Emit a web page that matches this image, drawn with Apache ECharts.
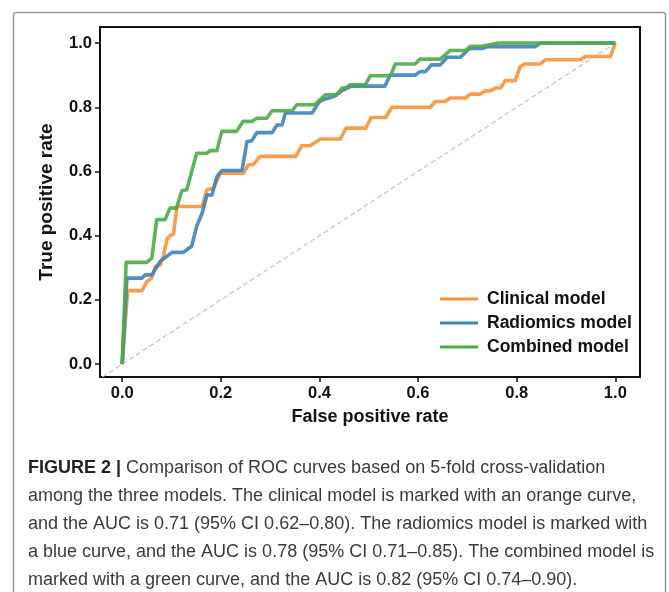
<!DOCTYPE html>
<html>
<head>
<meta charset="utf-8">
<script src="https://cdn.jsdelivr.net/npm/echarts@6/dist/echarts.min.js"></script>
<style>
html,body{margin:0;padding:0;background:#fff;}
#chart{width:669px;height:592px;}
</style>
</head>
<body>
<div id="chart"></div>
<script>
// ---- data ----
const tickValues = [0, 0.2, 0.4, 0.6, 0.8, 1.0];
const seriesNames = ['Clinical model', 'Radiomics model', 'Combined model'];

const clinicalFPR = [0, 0.011, 0.04, 0.05, 0.06, 0.067, 0.077, 0.084, 0.091, 0.097, 0.104, 0.111, 0.162, 0.172, 0.185, 0.199, 0.246, 0.256, 0.265, 0.28, 0.352, 0.364, 0.381, 0.402, 0.442, 0.454, 0.494, 0.505, 0.534, 0.547, 0.625, 0.635, 0.655, 0.665, 0.696, 0.706, 0.726, 0.736, 0.746, 0.757, 0.767, 0.777, 0.797, 0.807, 0.817, 0.848, 0.858, 0.929, 0.939, 0.99, 1.0];
const clinicalTPR = [0, 0.229, 0.229, 0.257, 0.268, 0.304, 0.309, 0.34, 0.389, 0.4, 0.405, 0.491, 0.491, 0.543, 0.548, 0.595, 0.595, 0.621, 0.621, 0.647, 0.647, 0.68, 0.68, 0.701, 0.701, 0.735, 0.735, 0.768, 0.768, 0.8, 0.8, 0.818, 0.818, 0.829, 0.829, 0.841, 0.841, 0.851, 0.851, 0.86, 0.86, 0.883, 0.883, 0.927, 0.935, 0.935, 0.948, 0.948, 0.958, 0.958, 1.0];

const radiomicsFPR = [0, 0.0095, 0.04, 0.047, 0.06, 0.077, 0.094, 0.101, 0.124, 0.141, 0.151, 0.162, 0.172, 0.182, 0.192, 0.202, 0.243, 0.253, 0.263, 0.273, 0.304, 0.314, 0.324, 0.331, 0.385, 0.4, 0.412, 0.43, 0.447, 0.465, 0.533, 0.543, 0.594, 0.604, 0.615, 0.627, 0.645, 0.659, 0.686, 0.704, 0.73, 0.741, 0.838, 0.848, 1.0];
const radiomicsTPR = [0, 0.268, 0.268, 0.278, 0.278, 0.32, 0.34, 0.348, 0.348, 0.368, 0.429, 0.47, 0.527, 0.527, 0.584, 0.603, 0.603, 0.693, 0.696, 0.721, 0.721, 0.745, 0.745, 0.782, 0.782, 0.818, 0.826, 0.834, 0.853, 0.866, 0.866, 0.9, 0.9, 0.911, 0.911, 0.932, 0.932, 0.956, 0.956, 0.983, 0.983, 0.989, 0.989, 1.0, 1.0];

const combinedFPR = [0, 0.008, 0.05, 0.06, 0.07, 0.087, 0.097, 0.11, 0.121, 0.131, 0.151, 0.172, 0.178, 0.192, 0.202, 0.232, 0.245, 0.263, 0.273, 0.293, 0.304, 0.345, 0.354, 0.39, 0.412, 0.435, 0.446, 0.455, 0.462, 0.493, 0.503, 0.544, 0.554, 0.594, 0.604, 0.645, 0.665, 0.696, 0.707, 0.73, 0.763, 1.0];
const combinedTPR = [0, 0.317, 0.317, 0.33, 0.45, 0.45, 0.486, 0.486, 0.54, 0.543, 0.657, 0.657, 0.665, 0.665, 0.725, 0.725, 0.756, 0.756, 0.766, 0.766, 0.789, 0.789, 0.808, 0.808, 0.839, 0.839, 0.86, 0.862, 0.87, 0.87, 0.898, 0.898, 0.935, 0.935, 0.95, 0.95, 0.977, 0.977, 0.99, 0.99, 1.0, 1.0];

const diagonal = [[-0.04, -0.04], [1, 1]];

const captionLines = [
  'Comparison of ROC curves based on 5-fold cross-validation',
  'among the three models. The clinical model is marked with an orange curve,',
  'and the AUC is 0.71 (95% CI 0.62\u20130.80). The radiomics model is marked with',
  'a blue curve, and the AUC is 0.78 (95% CI 0.71\u20130.85). The combined model is',
  'marked with a green curve, and the AUC is 0.82 (95% CI 0.74\u20130.90).'
];
const captionLabel = 'FIGURE 2 | ';

const colors = ['#F7923A', '#3F82BC', '#4DAA4A'];

function zip(a, b) { return a.map((v, i) => [v, b[i]]); }

const FONT = 'Liberation Sans, Arial, Helvetica, sans-serif';

const chart = echarts.init(document.getElementById('chart'), null, {renderer: 'canvas'});

const lineSeries = [
  [clinicalFPR, clinicalTPR],
  [radiomicsFPR, radiomicsTPR],
  [combinedFPR, combinedTPR]
].map((d, i) => ({
  name: seriesNames[i],
  type: 'line',
  data: zip(d[0], d[1]),
  symbol: 'none',
  smooth: false,
  silent: true,
  z: 3 + i,
  lineStyle: {color: colors[i], width: 3.6, opacity: 0.9, join: 'round'},
  itemStyle: {color: colors[i]}
}));

const option = {
  animation: false,
  backgroundColor: '#fff',
  grid: {
    left: 100, right: 29, top: 27, bottom: 215,
    show: true, borderColor: '#111', borderWidth: 2, backgroundColor: 'transparent'
  },
  legend: {
    data: seriesNames,
    orient: 'vertical',
    left: 435,
    top: 284,
    icon: 'rect',
    itemWidth: 38,
    itemHeight: 3,
    itemGap: 4,
    selectedMode: false,
    textStyle: {fontFamily: FONT, fontWeight: 'bold', fontSize: 17.5, color: '#111', lineHeight: 20, padding: [0, 0, 0, 4]}
  },
  xAxis: {
    type: 'value',
    min: -0.045, max: 1.05,
    name: 'False positive rate',
    nameLocation: 'middle',
    nameGap: 31,
    nameTextStyle: {fontFamily: FONT, fontWeight: 'bold', fontSize: 18, color: '#111'},
    axisLine: {show: true, onZero: false, lineStyle: {color: '#111', width: 2}},
    axisTick: {show: true, length: 5, customValues: tickValues, lineStyle: {color: '#111', width: 1.5}},
    axisLabel: {customValues: tickValues, margin: 8, fontFamily: FONT, fontWeight: 'bold', fontSize: 16.5, color: '#111',
      formatter: v => v.toFixed(1)},
    splitLine: {show: false}
  },
  yAxis: {
    type: 'value',
    min: -0.04, max: 1.05,
    name: 'True positive rate',
    nameLocation: 'middle',
    nameGap: 44,
    nameRotate: 90,
    nameTextStyle: {fontFamily: FONT, fontWeight: 'bold', fontSize: 19, color: '#111'},
    axisLine: {show: true, onZero: false, lineStyle: {color: '#111', width: 2}},
    axisTick: {show: true, length: 5, customValues: tickValues, lineStyle: {color: '#111', width: 1.5}},
    axisLabel: {customValues: tickValues, margin: 8, fontFamily: FONT, fontWeight: 'bold', fontSize: 16.5, color: '#111',
      formatter: v => v.toFixed(1)},
    splitLine: {show: false}
  },
  series: [
    {
      name: 'diagonal',
      type: 'line',
      data: diagonal,
      symbol: 'none',
      silent: true,
      z: 2,
      lineStyle: {color: '#c4c4c4', width: 1.2, type: [5, 3]}
    }
  ].concat(lineSeries),
  graphic: [
    {
      type: 'rect',
      shape: {x: 13.5, y: 12.5, width: 652, height: 600, r: 3},
      style: {fill: 'none', stroke: '#9a9a9a', lineWidth: 1.5},
      silent: true,
      z: 0
    },
    {
      type: 'text',
      left: 28,
      top: 454,
      style: {
        text: '{b|' + captionLabel + '}' + captionLines[0] + '\n' + captionLines.slice(1).join('\n'),
        fontFamily: FONT,
        fontSize: 18,
        lineHeight: 28,
        fill: '#3a3a3a',
        rich: {
          b: {fontFamily: FONT, fontWeight: 'bold', fontSize: 18, lineHeight: 28, fill: '#222'}
        }
      }
    }
  ]
};

chart.setOption(option);
</script>
</body>
</html>
